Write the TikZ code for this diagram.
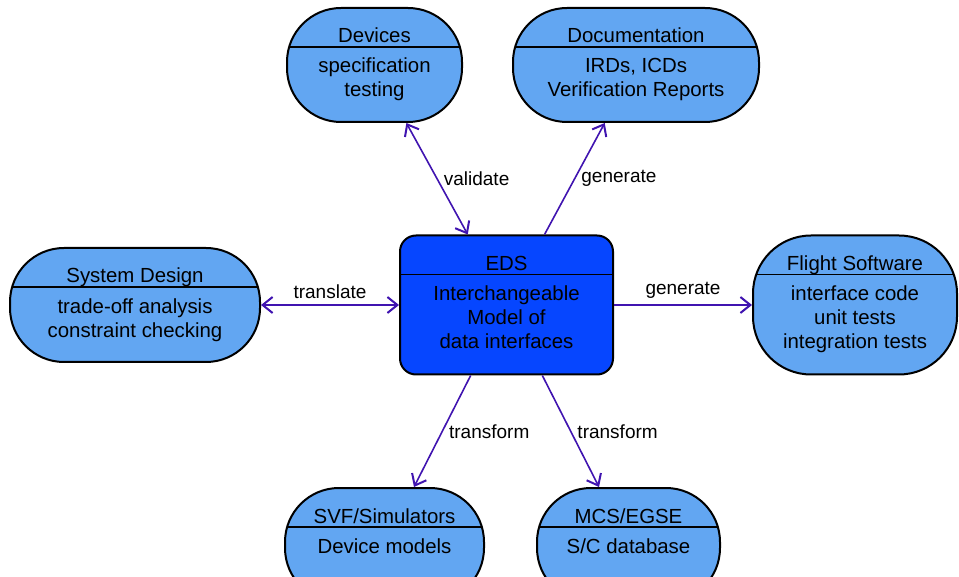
\documentclass[tikz,border=0pt]{standalone}
\usepackage{fontspec}
\setmainfont{Liberation Sans}
\usetikzlibrary{positioning,arrows.meta}
\definecolor{boxblue}{RGB}{98,166,242}
\definecolor{edsblue}{RGB}{6,70,255}
\definecolor{linkpurple}{RGB}{64,20,176}

\begin{document}
\begin{tikzpicture}[x=0.5pt, y=-0.5pt,
    lane/.style={draw=black, line width=1pt, fill=boxblue, rounded corners=27pt, inner sep=0pt,
      path picture={\draw[line width=0.7pt] ([yshift=-19.5pt]path picture bounding box.north west)
        -- ([yshift=-19.5pt]path picture bounding box.north east);}},
    core/.style={lane, fill=edsblue, rounded corners=8pt},
    title/.style={anchor=base, inner sep=0pt, font=\fontsize{10.2}{12}\selectfont},
    body/.style={anchor=base, align=center, inner sep=0pt, font=\fontsize{10.2}{12}\selectfont},
    tag/.style={inner sep=3pt, font=\fontsize{9.5}{11}\selectfont},
    link/.style={draw=linkpurple, line width=0.8pt,
      >={Straight Barb[length=5pt,width=8pt,line width=1pt]}}]
  \clip (0,0) rectangle (959,577);

  \node[core, minimum width=106.5pt, minimum height=69.5pt] (eds) at (506.5,305) {};
  \node[title] (edsT) at ([yshift=-18pt]eds.north) {EDS};
  \node[body] (edsB) at ([yshift=-57pt]eds.north) {Interchangeable\\Model of\\data interfaces};

  \node[lane, minimum width=87.5pt, minimum height=57pt] (dev) at (374.5,65) {};
  \node[title] (devT) at ([yshift=-18pt]dev.north) {Devices};
  \node[body] (devB) at ([yshift=-45pt]dev.north) {specification\\testing};

  \node[lane, minimum width=123pt, minimum height=57pt] (doc) at (636,65) {};
  \node[title] (docT) at ([yshift=-18pt]doc.north) {Documentation};
  \node[body] (docB) at ([yshift=-45pt]doc.north) {IRDs, ICDs\\Verification Reports};

  \node[lane, minimum width=125pt, minimum height=57pt] (sys) at (135,305) {};
  \node[title] (sysT) at ([yshift=-18pt]sys.north) {System Design};
  \node[body] (sysB) at ([yshift=-45pt]sys.north) {trade-off analysis\\constraint checking};

  \node[lane, minimum width=102pt, minimum height=69.5pt, rounded corners=29pt] (fsw) at (855,305) {};
  \node[title] (fswT) at ([yshift=-18pt]fsw.north) {Flight Software};
  \node[body] (fswB) at ([yshift=-57pt]fsw.north) {interface code\\unit tests\\integration tests};

  \node[lane, minimum width=99.5pt, minimum height=57pt] (svf) at (384.5,545) {};
  \node[title] (svfT) at ([yshift=-18pt]svf.north) {SVF/Simulators};
  \node[body] (svfB) at ([yshift=-33pt]svf.north) {Device models};

  \node[lane, minimum width=91.5pt, minimum height=57pt] (mcs) at (628.5,545) {};
  \node[title] (mcsT) at ([yshift=-18pt]mcs.north) {MCS/EGSE};
  \node[body] (mcsB) at ([yshift=-33pt]mcs.north) {S/C database};

  \draw[link, <->] (dev) -- node[tag, right] {validate} (eds);
  \draw[link, ->] (eds) -- node[tag, right] {generate} (doc);
  \draw[link, <->] (sys) -- node[tag, above] {translate} (eds);
  \draw[link, ->] (eds) -- node[tag, above] {generate} (fsw);
  \draw[link, ->] (eds) -- node[tag, right] {transform} (svf);
  \draw[link, ->] (eds) -- node[tag, right] {transform} (mcs);
\end{tikzpicture}
\end{document}
